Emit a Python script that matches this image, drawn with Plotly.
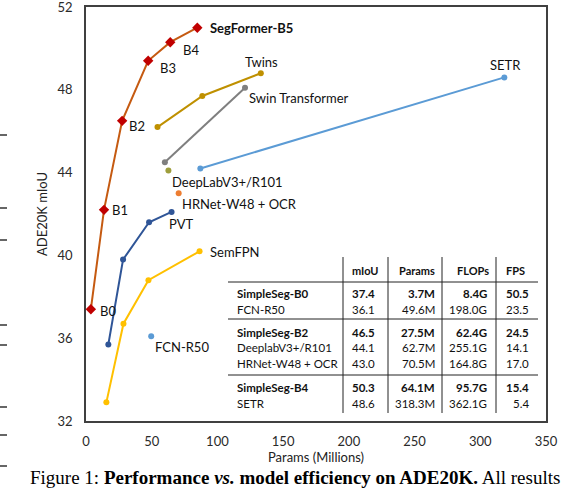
import plotly.graph_objects as go

# ---------------- data ----------------
segformer_names = ["B0", "B1", "B2", "B3", "B4", "SegFormer-B5"]
segformer_params = [3.7, 13.7, 27.5, 47.3, 64.1, 84.7]
segformer_miou = [37.4, 42.2, 46.5, 49.4, 50.3, 51.0]

twins_params = [54.4, 88.5, 133.0]
twins_miou = [46.2, 47.7, 48.8]

swin_params = [60.0, 121.0]
swin_miou = [44.5, 48.1]

setr_params = [87.0, 318.3]
setr_miou = [44.2, 48.6]

pvt_params = [17.0, 28.2, 48.0, 65.1]
pvt_miou = [35.7, 39.8, 41.6, 42.1]

semfpn_params = [15.5, 28.5, 47.5, 86.4]
semfpn_miou = [32.9, 36.7, 38.8, 40.2]

deeplab_params = [62.7]
deeplab_miou = [44.1]
hrnet_params = [70.5]
hrnet_miou = [43.0]
fcn_params = [49.6]
fcn_miou = [36.1]

y_ticks = [32, 36, 40, 44, 48, 52]
x_ticks = [0, 50, 100, 150, 200, 250, 300, 350]

table_header = ["mIoU", "Params", "FLOPs", "FPS"]
table_names = ["SimpleSeg-B0", "FCN-R50", "SimpleSeg-B2", "DeeplabV3+/R101",
               "HRNet-W48 + OCR", "SimpleSeg-B4", "SETR"]
table_miou = ["37.4", "36.1", "46.5", "44.1", "43.0", "50.3", "48.6"]
table_params = ["3.7M", "49.6M", "27.5M", "62.7M", "70.5M", "64.1M", "318.3M"]
table_flops = ["8.4G", "198.0G", "62.4G", "255.1G", "164.8G", "95.7G", "362.1G"]
table_fps = ["50.5", "23.5", "24.5", "14.1", "17.0", "15.4", "5.4"]
table_bold = [True, False, True, False, False, True, False]

caption = ("Figure 1: <b>Performance <i>vs.</i> model efficiency on ADE20K.</b> "
           "All results")

# ---------------- layout geometry ----------------
W, H = 568, 490
ML, MR, MT, MB = 86, 22, 7, 69
PW, PH = W - ML - MR, H - MT - MB
FONT = "Lato, 'Open Sans', sans-serif"


def px(x, y):
    """pixel -> paper coords"""
    return (x - ML) / PW, (H - MB - y) / PH


fig = go.Figure()


def series(xs, ys, color, mcolor=None, symbol="circle", msize=6, width=2):
    fig.add_trace(go.Scatter(
        x=xs, y=ys, mode="lines+markers",
        line=dict(color=color, width=width),
        marker=dict(color=mcolor or color, symbol=symbol, size=msize),
        cliponaxis=False, showlegend=False, hoverinfo="skip"))


series(semfpn_params, semfpn_miou, "#FFC000")
series(pvt_params, pvt_miou, "#2F5597")
series(setr_params, setr_miou, "#5B9BD5")
series(swin_params, swin_miou, "#7F7F7F")
series(twins_params, twins_miou, "#BF9000")
series(deeplab_params, deeplab_miou, "#9E9E3C")
series(hrnet_params, hrnet_miou, "#ED7D31")
series(fcn_params, fcn_miou, "#5B9BD5")
series(segformer_params, segformer_miou, "#C55A11", mcolor="#C00000",
       symbol="diamond", msize=8)

# ---------------- point labels ----------------
def label(text, x, y, dx, dy, anchor="left", bold=False):
    fig.add_annotation(x=x, y=y, text=f"<b>{text}</b>" if bold else text,
                       showarrow=False, xanchor=anchor, yanchor="middle",
                       xshift=dx, yshift=dy,
                       font=dict(family=FONT, size=13, color="#111111"))


seg_offsets = [(7, -2), (6, 0), (5, -5), (10, -7), (11, -8), (11, 0)]
for i, (n, xx, yy) in enumerate(zip(segformer_names, segformer_params, segformer_miou)):
    label(n, xx, yy, *seg_offsets[i], bold=(i == 5))

label("Twins", twins_params[-1], twins_miou[-1], 1, 11, anchor="center")
label("Swin Transformer", swin_params[-1], swin_miou[-1], 2, -10)
label("SETR", setr_params[-1], setr_miou[-1], 1, 12, anchor="center")
label("DeepLabV3+/R101", deeplab_params[0], deeplab_miou[0], 2, -11)
label("HRNet-W48 + OCR", hrnet_params[0], hrnet_miou[0], 1, -11)
label("PVT", pvt_params[-1], pvt_miou[-1], -5, -12)
label("SemFPN", semfpn_params[-1], semfpn_miou[-1], 8, -1)
label("FCN-R50", fcn_params[0], fcn_miou[0], 2, -11)

# ---------------- table ----------------
shapes = []
for yl in [282, 319, 375]:
    x0, y0 = px(228, yl)
    x1, _ = px(538, yl)
    shapes.append(dict(type="line", xref="paper", yref="paper",
                       x0=x0, x1=x1, y0=y0, y1=y0,
                       line=dict(color="#222222", width=1)))
for xl in [343, 388, 442, 496]:
    x0, y0 = px(xl, 257)
    _, y1 = px(xl, 413)
    shapes.append(dict(type="line", xref="paper", yref="paper",
                       x0=x0, x1=x0, y0=y0, y1=y1,
                       line=dict(color="#222222", width=1)))

TFS = 11.5
hdr_x = [365, 417, 473, 515]
for h, hx in zip(table_header, hdr_x):
    xp, yp = px(hx, 270)
    fig.add_annotation(xref="paper", yref="paper", x=xp, y=yp,
                       text=f"<b>{h}</b>", showarrow=False,
                       xanchor="center", yanchor="middle",
                       font=dict(family=FONT, size=TFS - 0.5, color="#111111"))

row_y = [293, 310, 332, 347, 363, 387, 403]
col_right = [377, 437, 489, 531]
for r in range(len(table_names)):
    b = table_bold[r]
    wrap = (lambda s: f"<b>{s}</b>") if b else (lambda s: s)
    xp, yp = px(235, row_y[r])
    fig.add_annotation(xref="paper", yref="paper", x=xp, y=yp,
                       text=wrap(table_names[r]), showarrow=False,
                       xanchor="left", yanchor="middle",
                       font=dict(family=FONT, size=TFS, color="#111111"))
    vals = [table_miou[r], table_params[r], table_flops[r], table_fps[r]]
    for v, cx in zip(vals, col_right):
        xp, yp = px(cx, row_y[r])
        fig.add_annotation(xref="paper", yref="paper", x=xp, y=yp,
                           text=wrap(v), showarrow=False,
                           xanchor="right", yanchor="middle",
                           font=dict(family=FONT, size=TFS, color="#111111"))

# ---------------- caption & page artefacts ----------------
xp, yp = px(28, 477)
fig.add_annotation(xref="paper", yref="paper", x=xp, y=yp, text=caption,
                   showarrow=False, xanchor="left", yanchor="middle",
                   font=dict(family="'Liberation Serif', 'DejaVu Serif', serif",
                             size=19, color="#000000"))

for yd in [135, 208, 240, 325, 345, 407, 435, 466]:
    x0, y0 = px(0, yd)
    x1, _ = px(7, yd)
    shapes.append(dict(type="line", xref="paper", yref="paper",
                       x0=x0, x1=x1, y0=y0, y1=y0,
                       line=dict(color="#333333", width=1.5)))

fig.update_layout(
    width=W, height=H,
    margin=dict(l=ML, r=MR, t=MT, b=MB, autoexpand=False),
    plot_bgcolor="white", paper_bgcolor="white",
    shapes=shapes,
    font=dict(family=FONT, size=13, color="#333333"),
    xaxis=dict(range=[0, 350], tickvals=x_ticks, showgrid=False, zeroline=False,
               showline=True, mirror=True, linecolor="#404040", linewidth=2,
               ticks="outside", ticklen=7, tickcolor="rgba(0,0,0,0)",
               ticklabeloverflow="allow",
               tickfont=dict(size=13, color="#2a2a2a"),
               title=dict(text="Params (Millions)", standoff=0,
                          font=dict(size=13, color="#222222"))),
    yaxis=dict(range=[32, 52], tickvals=y_ticks, showgrid=False, zeroline=False,
               showline=True, mirror=True, linecolor="#404040", linewidth=1.5,
               ticks="outside", ticklen=9, tickcolor="rgba(0,0,0,0)",
               ticklabeloverflow="allow",
               tickfont=dict(size=13, color="#2a2a2a"),
               title=dict(text="ADE20K mIoU", standoff=7,
                          font=dict(size=13, color="#222222"))),
)

fig.write_html("out.html")
